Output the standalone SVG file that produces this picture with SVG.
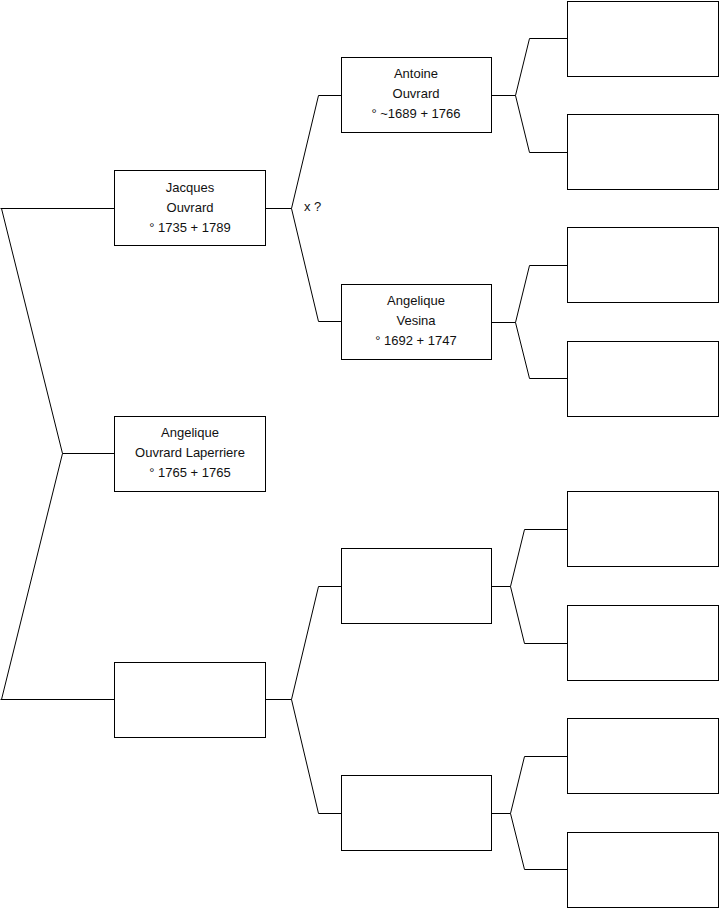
<svg xmlns="http://www.w3.org/2000/svg" width="719" height="908" viewBox="0 0 719 908">
<style>
.box{fill:#fff;stroke:#000;stroke-width:1}
.c{fill:none;stroke:#000;stroke-width:1}
text{font-family:"Liberation Sans",Arial,sans-serif;font-size:13px;fill:#111;text-anchor:middle}
</style>
<rect width="719" height="908" fill="#fff"/>
<g id="connectors">
<path class="c" d="M0.5,208.5 H114.5 M1.5,208.5 L62.5,453.5 L1.5,699.5 M0.5,699.5 H114.5 M62.5,453.5 H114.5"/>
<path class="c" d="M265.5,208.5 H291.5 M318.5,95.5 L291.5,208.5 L318.5,321.5 M318.5,95.5 H341.5 M318.5,321.5 H341.5"/>
<path class="c" d="M265.5,699.5 H291.5 M318.5,586.5 L291.5,699.5 L318.5,813.5 M318.5,586.5 H341.5 M318.5,813.5 H341.5"/>
<path class="c" d="M491.5,95.5 H515.5 M529.5,38.5 L515.5,95.5 L529.5,152.5 M529.5,38.5 H567.5 M529.5,152.5 H567.5"/>
<path class="c" d="M491.5,322.5 H515.5 M529.5,265.5 L515.5,322.5 L529.5,378.5 M529.5,265.5 H567.5 M529.5,378.5 H567.5"/>
<path class="c" d="M491.5,586.5 H510.5 M524.5,529.5 L510.5,586.5 L524.5,643.5 M524.5,529.5 H567.5 M524.5,643.5 H567.5"/>
<path class="c" d="M491.5,813.5 H510.5 M524.5,756.5 L510.5,813.5 L524.5,869.5 M524.5,756.5 H567.5 M524.5,869.5 H567.5"/>
<text x="304" y="211" style="text-anchor:start">x ?</text>
</g>
<g id="jacques"><rect class="box" x="114.5" y="170.5" width="151" height="75"/>
<text x="190" y="191.5">Jacques</text><text x="190" y="211.5">Ouvrard</text><text x="190" y="231.5">° 1735 + 1789</text></g>
<g id="angelique"><rect class="box" x="114.5" y="416.5" width="151" height="75"/>
<text x="190" y="437">Angelique</text><text x="190" y="457">Ouvrard Laperriere</text><text x="190" y="477">° 1765 + 1765</text></g>
<g id="mother"><rect class="box" x="114.5" y="662.5" width="151" height="75"/></g>
<g id="antoine"><rect class="box" x="341.5" y="57.5" width="150" height="75"/>
<text x="416" y="78">Antoine</text><text x="416" y="98">Ouvrard</text><text x="416" y="118">° ~1689 + 1766</text></g>
<g id="vesina"><rect class="box" x="341.5" y="284.5" width="150" height="75"/>
<text x="416" y="304.5">Angelique</text><text x="416" y="324.5">Vesina</text><text x="416" y="344.5">° 1692 + 1747</text></g>
<g id="mf"><rect class="box" x="341.5" y="548.5" width="150" height="75"/></g>
<g id="mm"><rect class="box" x="341.5" y="775.5" width="150" height="75"/></g>
<g id="g1"><rect class="box" x="567.5" y="1.5" width="151" height="75"/></g>
<g id="g2"><rect class="box" x="567.5" y="114.5" width="151" height="75"/></g>
<g id="g3"><rect class="box" x="567.5" y="227.5" width="151" height="75"/></g>
<g id="g4"><rect class="box" x="567.5" y="341.5" width="151" height="75"/></g>
<g id="g5"><rect class="box" x="567.5" y="491.5" width="151" height="75"/></g>
<g id="g6"><rect class="box" x="567.5" y="605.5" width="151" height="75"/></g>
<g id="g7"><rect class="box" x="567.5" y="718.5" width="151" height="75"/></g>
<g id="g8"><rect class="box" x="567.5" y="832.5" width="151" height="75"/></g>
</svg>
